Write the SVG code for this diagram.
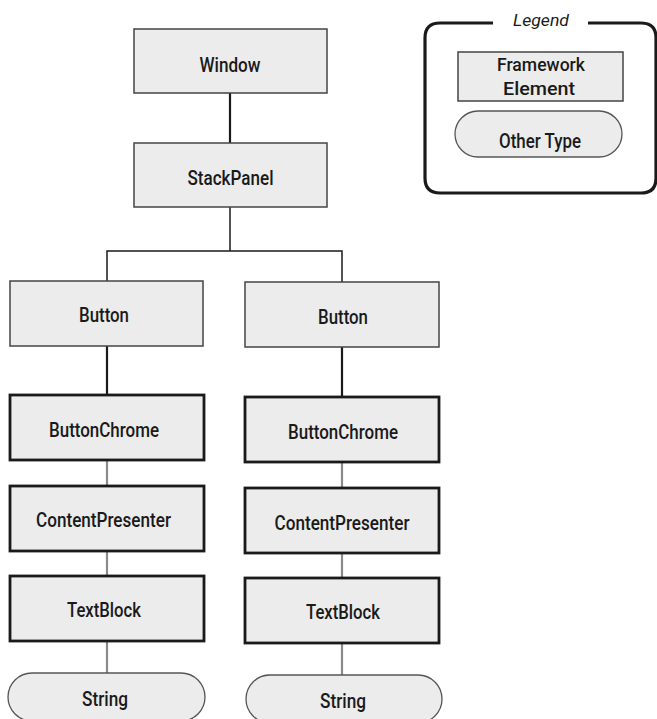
<svg xmlns="http://www.w3.org/2000/svg" width="657" height="719" viewBox="0 0 657 719">
<style>
text{font-family:Roboto,"Liberation Sans",sans-serif;font-weight:500;font-size:20.5px;fill:#1a1a1a;text-anchor:middle}
.sm{font-size:18px}
.lg{font-size:17px;font-style:italic;font-weight:400}
.fe{fill:#ececec;stroke:#444;stroke-width:1.5}
.fe2{fill:#ececec;stroke:#1a1a1a;stroke-width:2.8}
.ot{fill:#ececec;stroke:#555;stroke-width:1.3}
.c1{stroke:#1a1a1a;stroke-width:2.2;fill:none}
.c2{stroke:#1a1a1a;stroke-width:1.5;fill:none}
.c3{stroke:#8a8a8a;stroke-width:2.2;fill:none}
</style>
<rect width="657" height="719" fill="#fff"/>
<g id="connectors">
<line class="c1" x1="230" y1="93" x2="230" y2="143"/>
<path class="c2" d="M230,207 V251 M107,281 V251 H342 V282"/>
<line class="c1" x1="107" y1="346" x2="107" y2="395"/>
<line class="c1" x1="342" y1="347" x2="342" y2="397"/>
<line class="c3" x1="107" y1="460" x2="107" y2="486"/>
<line class="c3" x1="342" y1="462" x2="342" y2="488"/>
<line class="c3" x1="107" y1="551" x2="107" y2="576"/>
<line class="c3" x1="342" y1="553" x2="342" y2="578"/>
<line class="c3" x1="107" y1="641" x2="107" y2="673"/>
<line class="c3" x1="342" y1="643" x2="342" y2="675"/>
</g>
<g id="window"><rect class="fe" x="134" y="29" width="193" height="64"/><text x="230" y="72" textLength="61" lengthAdjust="spacingAndGlyphs">Window</text></g>
<g id="stackpanel"><rect class="fe" x="134" y="143" width="193" height="64"/><text x="230.5" y="185" textLength="86" lengthAdjust="spacingAndGlyphs">StackPanel</text></g>
<g id="button1"><rect class="fe" x="10" y="281" width="193" height="65"/><text x="104" y="321.5" textLength="50" lengthAdjust="spacingAndGlyphs">Button</text></g>
<g id="button2"><rect class="fe" x="245" y="282" width="194" height="65"/><text x="343" y="324" textLength="50" lengthAdjust="spacingAndGlyphs">Button</text></g>
<g id="buttonchrome1"><rect class="fe2" x="10" y="395" width="194" height="65"/><text x="104" y="436.7" textLength="110" lengthAdjust="spacingAndGlyphs">ButtonChrome</text></g>
<g id="buttonchrome2"><rect class="fe2" x="245" y="397" width="194" height="65"/><text x="343" y="439" textLength="110" lengthAdjust="spacingAndGlyphs">ButtonChrome</text></g>
<g id="contentpresenter1"><rect class="fe2" x="10" y="486" width="194" height="65"/><text x="103.5" y="527.3" textLength="135" lengthAdjust="spacingAndGlyphs">ContentPresenter</text></g>
<g id="contentpresenter2"><rect class="fe2" x="245" y="488" width="194" height="65"/><text x="342" y="530" textLength="135" lengthAdjust="spacingAndGlyphs">ContentPresenter</text></g>
<g id="textblock1"><rect class="fe2" x="10" y="576" width="194" height="65"/><text x="104" y="617.3" textLength="74" lengthAdjust="spacingAndGlyphs">TextBlock</text></g>
<g id="textblock2"><rect class="fe2" x="245" y="578" width="194" height="65"/><text x="343" y="619.3" textLength="74" lengthAdjust="spacingAndGlyphs">TextBlock</text></g>
<g id="string1"><rect class="ot" x="8" y="673" width="197" height="48" rx="24"/><text x="105" y="705.5" textLength="46" lengthAdjust="spacingAndGlyphs">String</text></g>
<g id="string2"><rect class="ot" x="246" y="675" width="196" height="48" rx="24"/><text x="343" y="707.5" textLength="46" lengthAdjust="spacingAndGlyphs">String</text></g>
<g id="legend">
<path d="M493,23 H440 Q425,23 425,38 V178 Q425,193 440,193 H641 Q656,193 656,178 M588,23 H641 Q656,23 656,38 V178" fill="none" stroke="#1a1a1a" stroke-width="3.2"/>
<text class="lg" x="541" y="26" textLength="56" lengthAdjust="spacingAndGlyphs">Legend</text>
<g id="legend-fe"><rect class="fe" x="458" y="52" width="165" height="49"/><text class="sm" x="541" y="71" textLength="88" lengthAdjust="spacingAndGlyphs">Framework</text><text class="sm" x="539" y="95" textLength="72" lengthAdjust="spacingAndGlyphs">Element</text></g>
<g id="legend-ot"><rect class="ot" x="455" y="111" width="167" height="46" rx="23"/><text x="540" y="148.3" textLength="82" lengthAdjust="spacingAndGlyphs">Other Type</text></g>
</g>
</svg>
